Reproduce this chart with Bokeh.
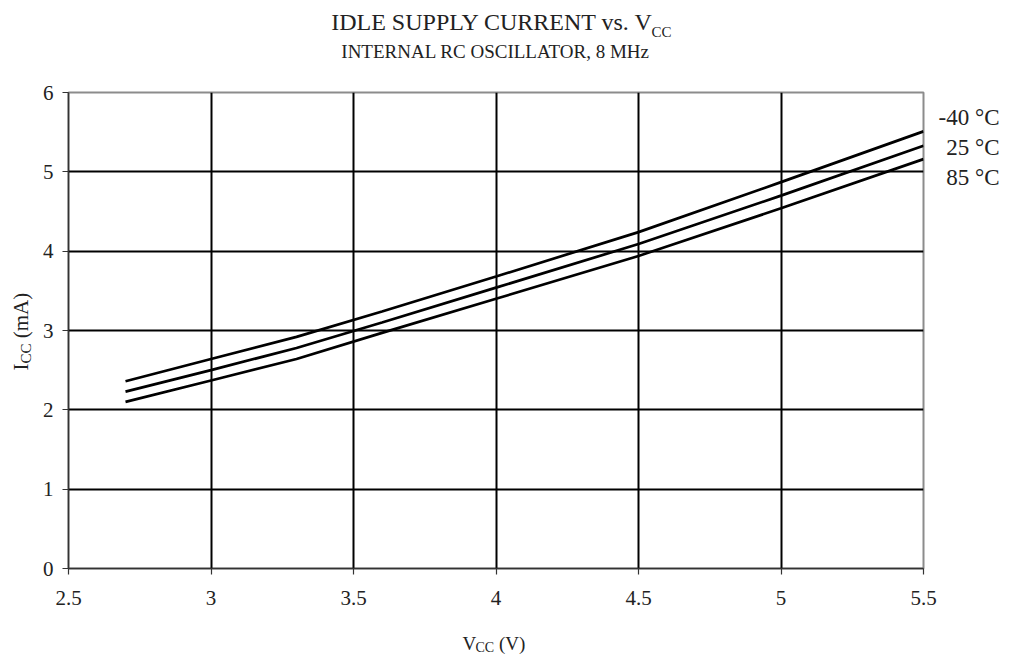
import math
from bokeh.plotting import figure
from bokeh.models import Label, FixedTicker, Range1d
from bokeh.embed import file_html
from bokeh.resources import INLINE

# ---- data ----
vcc = [2.7, 3.0, 3.3, 3.6, 4.0, 4.5, 5.0, 5.5]
icc_m40 = [2.36, 2.64, 2.92, 3.24, 3.68, 4.24, 4.87, 5.51]
icc_25 = [2.23, 2.50, 2.78, 3.10, 3.54, 4.09, 4.70, 5.33]
icc_85 = [2.10, 2.37, 2.64, 2.97, 3.40, 3.94, 4.54, 5.16]
series_labels = ["-40 °C", "25 °C", "85 °C"]
x_ticks = [2.5, 3, 3.5, 4, 4.5, 5, 5.5]
y_ticks = [0, 1, 2, 3, 4, 5, 6]

FONT = "Liberation Serif"
ASC = 0.89  # ascent of the font, in em, used to place texts by their baseline
X0, X1, Y0, Y1 = 2.5, 5.5, 0, 6
W, H = 1008, 654
FL, FR, FT, FB = 68, 923, 92, 568  # frame edges in px

p = figure(width=W, height=H, output_backend="svg", toolbar_location=None,
           x_range=Range1d(X0, X1), y_range=Range1d(Y0, Y1),
           min_border_left=FL, min_border_right=W - FR,
           min_border_top=FT, min_border_bottom=H - FB)
p.background_fill_color = "white"
p.border_fill_color = "white"
p.outline_line_color = "#8c8c8c"
p.outline_line_width = 2

for ax in (p.xaxis[0], p.yaxis[0]):
    ax.axis_line_color = "#333333"
    ax.axis_line_width = 1.5
    ax.major_tick_line_color = "#333333"
    ax.major_tick_line_width = 1.2
    ax.major_tick_in = 0
    ax.major_tick_out = 6
    ax.minor_tick_line_color = None
    ax.major_label_text_font = FONT
    ax.major_label_text_font_size = "21px"
    ax.major_label_text_color = "#222222"

p.xaxis.ticker = FixedTicker(ticks=x_ticks)
p.yaxis.ticker = FixedTicker(ticks=y_ticks)
p.xaxis.major_label_overrides = {t: (str(t) if t != int(t) else str(int(t))) for t in x_ticks}
p.xaxis.major_label_standoff = 16
p.yaxis.major_label_standoff = 9

p.xgrid.ticker = FixedTicker(ticks=[t for t in x_ticks if X0 < t < X1])
p.ygrid.ticker = FixedTicker(ticks=[t for t in y_ticks if Y0 < t < Y1])
for g in (p.xgrid[0], p.ygrid[0]):
    g.grid_line_color = "black"
    g.grid_line_width = 2

for ys in (icc_m40, icc_25, icc_85):
    p.line(vcc, ys, line_color="black", line_width=2.7)


def lab(side, text, px, base, size, align="left", vertical=False,
        line_height=1.2, color="#222222"):
    """Text whose first baseline sits at `base` (page px; an x for vertical text).
    Anchored at the frame's top-left data corner and placed in a side panel
    so that it is not clipped to the plot frame."""
    top = base - ASC * size
    if vertical:
        xo, yo, ang = top - FL, FT - px, math.pi / 2
    else:
        xo, yo, ang = px - FL, FT - top, 0.0
    p.add_layout(Label(x=X0, y=Y1, x_offset=xo, y_offset=yo, text=text,
                       text_font=FONT, text_font_size=f"{size}px", text_align=align,
                       text_baseline="top", angle=ang, text_color=color,
                       text_line_height=line_height), side)


# title
lab("above", "IDLE SUPPLY CURRENT vs. V", 653, 30, 24, align="right")
lab("above", "CC", 651, 37, 15)
lab("above", "INTERNAL RC OSCILLATOR, 8 MHz", 495, 57, 19, align="center")

# x axis label: V_CC (V)
lab("below", "V\u2003\u2009(V)", 462, 649, 19)
lab("above", "CC", 475, 652, 14)

# y axis label (vertical): I_CC (mA)   (px here is the start position along the page's y)
lab("left", "I\u2003\u2009(mA)", 370, 27, 21, vertical=True)
lab("right", "CC", 363, 31, 15, vertical=True)

# series labels
lab("right", "\n".join(series_labels), 999, 125, 23, align="right", line_height=1.2)

open("out.html", "w").write(file_html(p, INLINE))
